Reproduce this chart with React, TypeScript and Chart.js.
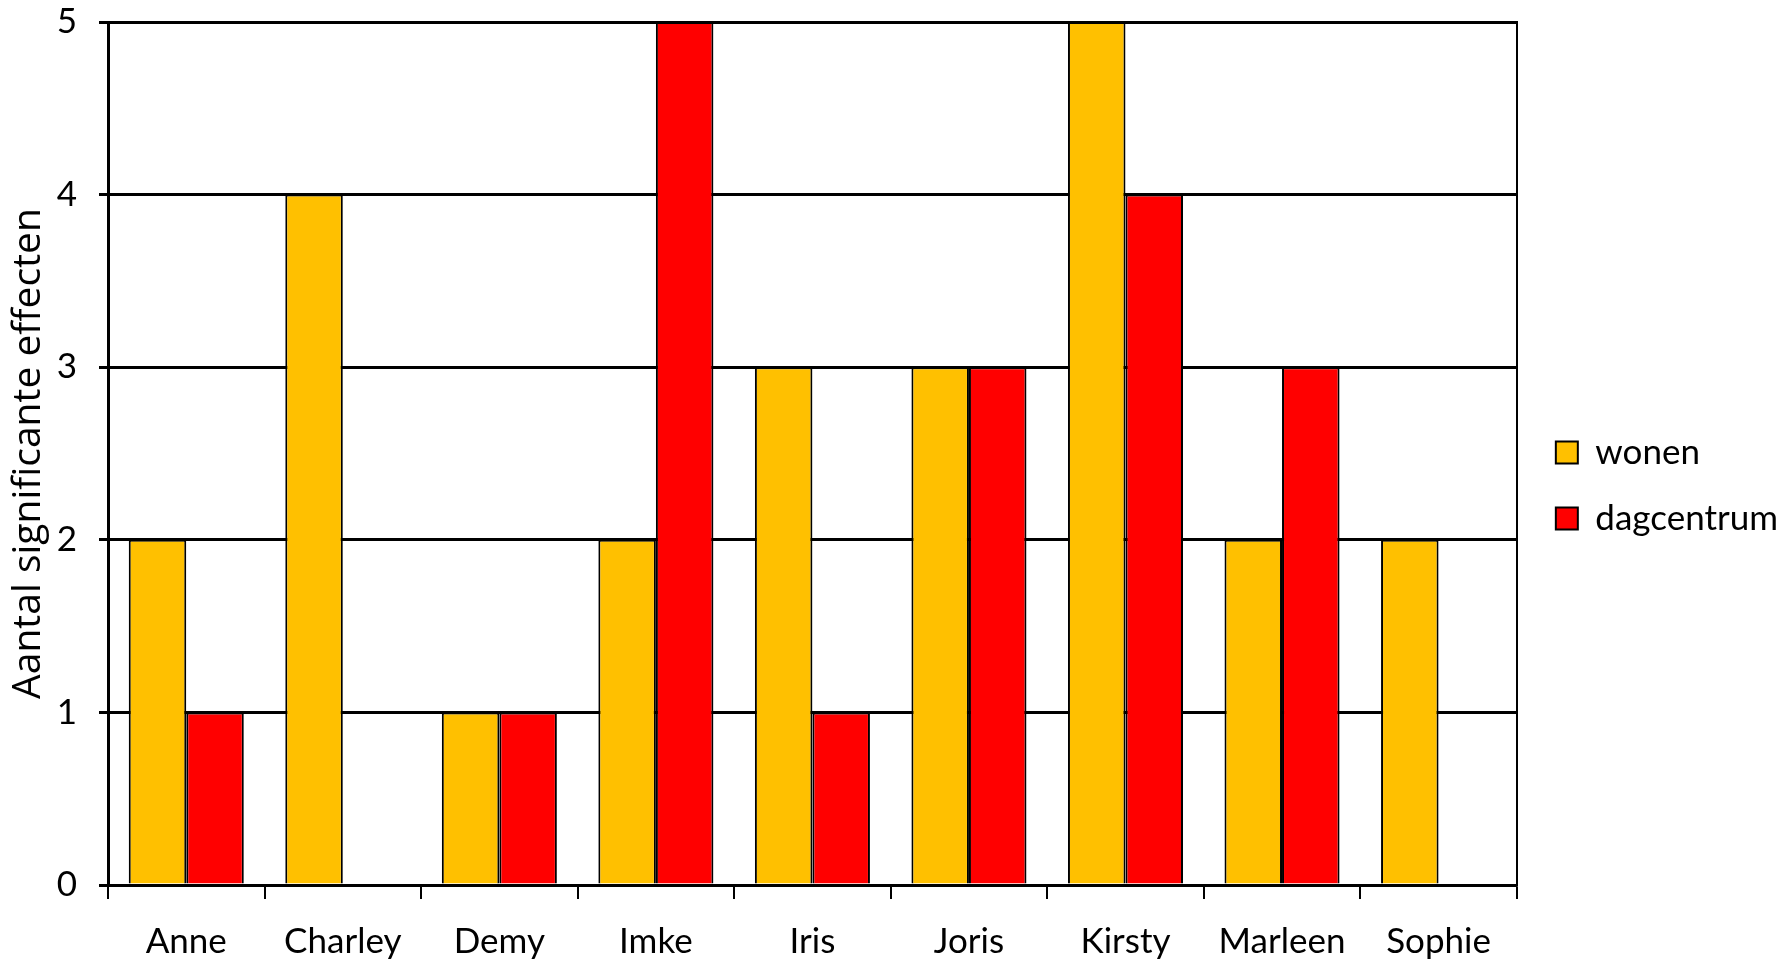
import React, { useEffect, useRef } from "react";
import { Chart, registerables } from "chart.js";

Chart.register(...registerables);

const categories = ["Anne", "Charley", "Demy", "Imke", "Iris", "Joris", "Kirsty", "Marleen", "Sophie"];
const wonen = [2, 4, 1, 2, 3, 3, 5, 2, 2];
const dagcentrum = [1, 0, 1, 5, 1, 3, 4, 3, 0];
const yTicks = [0, 1, 2, 3, 4, 5];
const yTitle = "Aantal significante effecten";
const seriesNames = ["wonen", "dagcentrum"];

const FONT = "Lato";

export default function App() {
  const ref = useRef<HTMLCanvasElement | null>(null);
  useEffect(() => {
    if (!ref.current) return;
    const chart = new Chart(ref.current, {
      type: "bar",
      data: {
        labels: categories,
        datasets: [
          {
            label: seriesNames[0],
            data: wonen,
            backgroundColor: "#FFC000",
            borderColor: "#000000",
            borderWidth: 2,
            categoryPercentage: 0.735,
            barPercentage: 1,
          },
          {
            label: seriesNames[1],
            data: dagcentrum,
            backgroundColor: "#FF0000",
            borderColor: "#000000",
            borderWidth: 2,
            categoryPercentage: 0.735,
            barPercentage: 1,
          },
        ],
      },
      options: {
        responsive: false,
        animation: false,
        devicePixelRatio: 1,
        layout: { padding: { top: 22, right: 0, bottom: 0, left: 0 } },
        plugins: {
          tooltip: { enabled: false },
          legend: {
            position: "right",
            align: "center",
            fullSize: false,
            title: {
              display: true,
              text: " ",
              font: { family: FONT, size: 10 },
              padding: { top: 26, bottom: 26 },
            },
            labels: {
              boxWidth: 22,
              boxHeight: 22,
              padding: 31,
              color: "#000",
              font: { family: FONT, size: 35 },
              generateLabels: (chart: any) =>
                chart.data.datasets.map((ds: any, i: number) => ({
                  text: ds.label,
                  fillStyle: ds.backgroundColor,
                  strokeStyle: "#000",
                  fontColor: "#000",
                  lineWidth: 2,
                  hidden: false,
                  datasetIndex: i,
                })),
            },
          },
        },
        scales: {
          x: {
            offset: true,
            grid: {
              display: true,
              offset: true,
              drawOnChartArea: false,
              drawTicks: true,
              tickLength: 14,
              color: "#000",
              lineWidth: 2,
            },
            border: { display: true, color: "#000", width: 2.5 },
            ticks: { color: "#000", font: { family: FONT, size: 35 }, padding: 22, maxRotation: 0 },
            afterFit: (s: any) => {
              s.height = 82;
              s.paddingLeft = 0;
              s.paddingRight = 0;
            },
          },
          y: {
            min: 0,
            max: 5,
            afterBuildTicks: (s: any) => {
              s.ticks = yTicks.map((v) => ({ value: v }));
            },
            grid: { color: "#000", lineWidth: 3, tickLength: 9, drawTicks: true },
            border: { display: true, color: "#000", width: 3 },
            ticks: { color: "#000", font: { family: FONT, size: 35 }, padding: 22 },
            title: {
              display: true,
              text: yTitle,
              color: "#000",
              font: { family: "Open Sans", size: 39 },
              padding: { top: 5, bottom: 0 },
            },
            afterFit: (s: any) => {
              s.width = 108;
              s.paddingTop = 0;
              s.paddingBottom = 0;
            },
          },
          y2: {
            type: "linear",
            position: "right",
            min: 0,
            max: 5,
            grid: { display: false, drawOnChartArea: false },
            ticks: { display: false },
            border: { display: true, color: "#000", width: 2 },
            afterFit: (s: any) => {
              s.width = 8;
              s.paddingTop = 0;
              s.paddingBottom = 0;
            },
          },
        },
      },
    });
    return () => chart.destroy();
  }, []);
  return (
    <div style={{ position: "absolute", left: 0, top: 0, width: 1788, height: 967, background: "#fff" }}>
      <canvas ref={ref} width={1788} height={967} style={{ display: "block" }} />
    </div>
  );
}
